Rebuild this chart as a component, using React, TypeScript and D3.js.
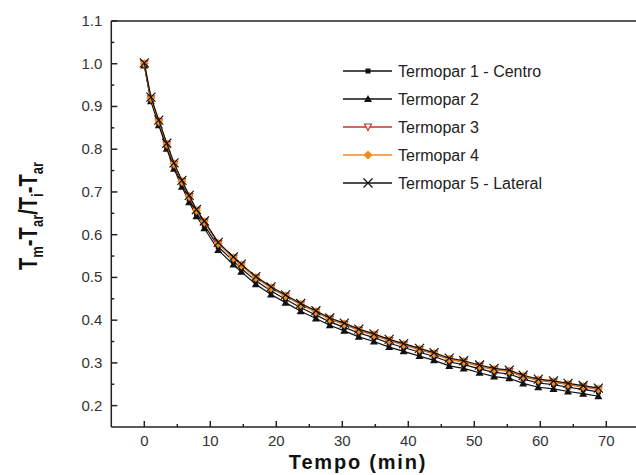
import React from "react";
import * as d3 from "d3";

const W = 636;
const H = 475;

const times = [0, 1.0, 2.2, 3.4, 4.5, 5.7, 6.8, 7.9, 9.1, 11.2, 13.5, 14.7, 16.9, 19.2, 21.4, 23.7, 26.0, 28.1, 30.3, 32.5, 34.8, 37.1, 39.3, 41.7, 43.9, 46.2, 48.4, 50.8, 53.0, 55.3, 57.4, 59.7, 62.0, 64.2, 66.5, 68.8];

const termopar1 = [0.998, 0.915, 0.860, 0.806, 0.760, 0.719, 0.683, 0.650, 0.622, 0.572, 0.538, 0.521, 0.492, 0.468, 0.449, 0.429, 0.412, 0.396, 0.383, 0.370, 0.359, 0.346, 0.336, 0.325, 0.315, 0.302, 0.296, 0.286, 0.278, 0.274, 0.262, 0.253, 0.249, 0.243, 0.238, 0.232];
const termopar2 = [0.996, 0.912, 0.856, 0.801, 0.754, 0.712, 0.676, 0.643, 0.615, 0.564, 0.530, 0.513, 0.484, 0.460, 0.441, 0.421, 0.404, 0.388, 0.375, 0.361, 0.350, 0.337, 0.327, 0.316, 0.306, 0.293, 0.287, 0.277, 0.268, 0.264, 0.252, 0.243, 0.239, 0.233, 0.228, 0.222];
const termopar3 = [1.000, 0.918, 0.864, 0.811, 0.765, 0.724, 0.689, 0.656, 0.629, 0.579, 0.545, 0.528, 0.499, 0.475, 0.456, 0.436, 0.419, 0.402, 0.390, 0.376, 0.365, 0.352, 0.342, 0.331, 0.321, 0.308, 0.302, 0.292, 0.284, 0.280, 0.268, 0.259, 0.255, 0.249, 0.244, 0.238];
const termopar4 = [1.000, 0.920, 0.866, 0.812, 0.766, 0.725, 0.690, 0.657, 0.630, 0.580, 0.546, 0.529, 0.500, 0.476, 0.457, 0.437, 0.420, 0.403, 0.391, 0.377, 0.366, 0.353, 0.343, 0.332, 0.322, 0.309, 0.303, 0.293, 0.285, 0.281, 0.269, 0.260, 0.256, 0.250, 0.245, 0.239];
const termopar5 = [1.002, 0.922, 0.868, 0.814, 0.768, 0.727, 0.692, 0.659, 0.632, 0.582, 0.548, 0.531, 0.502, 0.478, 0.459, 0.439, 0.422, 0.405, 0.393, 0.379, 0.368, 0.355, 0.345, 0.334, 0.324, 0.311, 0.305, 0.295, 0.287, 0.283, 0.271, 0.262, 0.258, 0.252, 0.247, 0.241];

const seriesNames = ["Termopar 1 - Centro", "Termopar 2", "Termopar 3", "Termopar 4", "Termopar 5 - Lateral"];
const seriesColors = ["#111111", "#111111", "#c0392b", "#f28a1c", "#111111"];
const seriesMarkers = ["square", "triangle", "downTriangle", "diamond", "cross"];
const seriesValues = [termopar1, termopar2, termopar3, termopar4, termopar5];

const xTicks = [0, 10, 20, 30, 40, 50, 60, 70];
const xMinorTicks = [5, 15, 25, 35, 45, 55, 65, 75];
const yTicks = [0.2, 0.3, 0.4, 0.5, 0.6, 0.7, 0.8, 0.9, 1.0, 1.1];
const yMinorTicks = [0.25, 0.35, 0.45, 0.55, 0.65, 0.75, 0.85, 0.95, 1.05];

const FONT = "'Liberation Sans', Arial, sans-serif";

function Marker({ kind, x, y, color }: { kind: string; x: number; y: number; color: string }) {
  if (kind === "square") {
    return <rect x={x - 2.5} y={y - 2.5} width={5} height={5} fill={color} />;
  }
  if (kind === "triangle") {
    return <path d={`M${x},${y - 4} L${x + 4},${y + 3} L${x - 4},${y + 3} Z`} fill={color} />;
  }
  if (kind === "downTriangle") {
    return <path d={`M${x - 3.5},${y - 3} L${x + 3.5},${y - 3} L${x},${y + 3.5} Z`} fill="#fff" stroke={color} strokeWidth={1.2} />;
  }
  if (kind === "diamond") {
    return <path d={`M${x},${y - 4.5} L${x + 4.5},${y} L${x},${y + 4.5} L${x - 4.5},${y} Z`} fill={color} />;
  }
  return (
    <path d={`M${x - 4.5},${y - 4.5} L${x + 4.5},${y + 4.5} M${x - 4.5},${y + 4.5} L${x + 4.5},${y - 4.5}`} stroke={color} strokeWidth={1.2} fill="none" />
  );
}

export default function App() {
  const x = d3.scaleLinear().domain([-5, 80]).range([111.3, 672.3]);
  const y = d3.scaleLinear().domain([0.15, 1.1]).range([427, 21]);
  const line = d3
    .line<[number, number]>()
    .x((d) => x(d[0]))
    .y((d) => y(d[1]));

  const order = [1, 0, 2, 3, 4];
  const axisColor = "#222";
  const textColor = "#333";

  return (
    <svg width={W} height={H} style={{ position: "absolute", left: 0, top: 0, background: "#fff" }} fontFamily={FONT}>
      <rect x={0} y={0} width={W} height={H} fill="#fff" />
      {order.map((si) => {
        const pts = times.map((t, i) => [t, seriesValues[si][i]] as [number, number]);
        return (
          <g key={si}>
            <path d={line(pts) || ""} fill="none" stroke={seriesColors[si]} strokeWidth={1.2} />
            {pts.map((p, i) => (
              <Marker key={i} kind={seriesMarkers[si]} x={x(p[0])} y={y(p[1])} color={seriesColors[si]} />
            ))}
          </g>
        );
      })}
      <line x1={x(-5)} x2={W + 2} y1={y(1.1)} y2={y(1.1)} stroke={axisColor} strokeWidth={1.5} />
      <line x1={x(-5)} x2={x(-5)} y1={y(1.1)} y2={y(0.15)} stroke={axisColor} strokeWidth={1.5} />
      <line x1={x(-5)} x2={W + 2} y1={y(0.15)} y2={y(0.15)} stroke={axisColor} strokeWidth={1.5} />
      {xTicks.map((t) => (
        <g key={t}>
          <line x1={x(t)} x2={x(t)} y1={y(0.15)} y2={y(0.15) - 6} stroke={axisColor} strokeWidth={1.5} />
          <text x={x(t)} y={y(0.15) + 19} textAnchor="middle" fontSize={15} fill={textColor}>
            {t}
          </text>
        </g>
      ))}
      {xMinorTicks.map((t) => (
        <line key={t} x1={x(t)} x2={x(t)} y1={y(0.15)} y2={y(0.15) - 3} stroke={axisColor} strokeWidth={1.5} />
      ))}
      {yTicks.map((t) => (
        <g key={t}>
          <line x1={x(-5)} x2={x(-5) + 6} y1={y(t)} y2={y(t)} stroke={axisColor} strokeWidth={1.5} />
          <text x={x(-5) - 9} y={y(t) + 5} textAnchor="end" fontSize={15} fill={textColor}>
            {t.toFixed(1)}
          </text>
        </g>
      ))}
      {yMinorTicks.map((t) => (
        <line key={t} x1={x(-5)} x2={x(-5) + 3} y1={y(t)} y2={y(t)} stroke={axisColor} strokeWidth={1.5} />
      ))}
      <text x={358} y={469} textAnchor="middle" fontSize={20} fontWeight="bold" letterSpacing={1.8} fill="#111">
        Tempo (min)
      </text>
      <text
        transform="translate(37,216) rotate(-90)"
        textAnchor="middle"
        fontSize={25}
        fontWeight="bold"
        fill="#111"
        textLength={108}
        lengthAdjust="spacingAndGlyphs"
      >
        T<tspan fontSize={16} dy={6}>m</tspan>
        <tspan dy={-6}>-T</tspan>
        <tspan fontSize={16} dy={6}>ar</tspan>
        <tspan dy={-6}>/T</tspan>
        <tspan fontSize={16} dy={6}>i</tspan>
        <tspan dy={-6}>-T</tspan>
        <tspan fontSize={16} dy={6}>ar</tspan>
      </text>
      {seriesNames.map((name, i) => {
        const ly = 71 + i * 28;
        return (
          <g key={name}>
            <line x1={343} x2={392} y1={ly} y2={ly} stroke={seriesColors[i]} strokeWidth={1.3} />
            <Marker kind={seriesMarkers[i]} x={368} y={ly} color={seriesColors[i]} />
            <text x={398} y={ly + 6} fontSize={16} fill="#222">
              {name}
            </text>
          </g>
        );
      })}
    </svg>
  );
}
